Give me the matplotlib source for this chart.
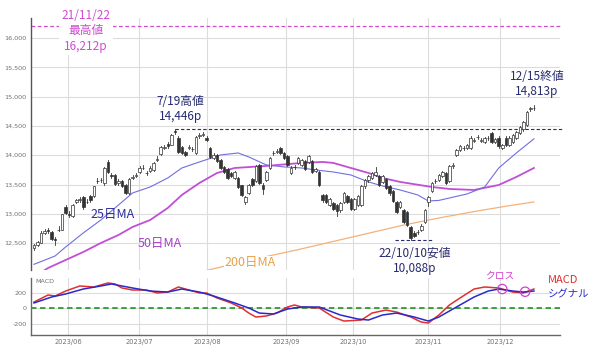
import matplotlib
matplotlib.use('Agg')
import matplotlib.pyplot as plt
import numpy as np

plt.rcParams['font.family'] = ['Noto Sans CJK JP', 'DejaVu Sans']

# daily candles, 2023/05/18 - 2023/12/15
opens = [12420, 12470, 12510, 12680, 12730, 12690, 12570, 12720, 12730, 13120, 12990, 12960, 13200, 13240, 13280,
         13200, 13300, 13300, 13560, 13570, 13520, 13890, 13660, 13660, 13520, 13560, 13500, 13360, 13620, 13650,
         13720, 13790, 13700, 13730, 13750,
         13920, 14020, 14120, 14200, 14180, 14410, 14300, 14140, 14060, 14130, 14100, 14040, 14330, 14350, 14290,
         14120, 13950, 14000, 13920, 13800, 13770, 13700, 13620, 13610, 13490, 13200, 13360, 13600, 13560, 13830,
         13500, 13580, 13780, 14030, 14060,
         14120, 14030, 13990, 13700, 13800, 13870, 13840, 13900, 13890, 13900, 13730, 13720, 13320, 13320, 13150,
         13180, 13150, 13060, 13200, 13300, 13250, 13090, 13150, 13160, 13470, 13570, 13620, 13670, 13650, 13550,
         13600, 13480, 13390, 13200, 13120, 13060,
         13030, 12780, 12680, 12690, 12720, 12860, 13200, 13390, 13560, 13580, 13650, 13700, 13560, 13820, 14010,
         14090, 14120, 14130, 14130, 14250, 14310, 14250, 14230, 14290, 14380, 14230, 14300, 14130, 14300, 14180,
         14230, 14290, 14380, 14440, 14520, 14790, 14800]
highs = [12490, 12540, 12700, 12740, 12760, 12700, 12600, 12790, 13000, 13150, 13050, 13170, 13260, 13290, 13300,
         13250, 13320, 13480, 13620, 13620, 13800, 13920, 13700, 13680, 13590, 13580, 13510, 13620, 13660, 13700,
         13820, 13830, 13740, 13810, 13880,
         13980, 14160, 14170, 14230, 14370, 14446, 14320, 14160, 14080, 14170, 14140, 14330, 14380, 14400, 14320,
         14140, 14030, 14020, 13940, 13820, 13790, 13720, 13740, 13630, 13500, 13310, 13510, 13620, 13830, 13850,
         13520, 13730, 13970, 14080, 14100,
         14140, 14050, 14000, 13810, 13840, 13970, 13940, 13920, 14000, 13920, 13790, 13740, 13340, 13340, 13270,
         13200, 13170, 13200, 13380, 13320, 13270, 13270, 13320, 13500, 13590, 13670, 13720, 13800, 13670, 13670,
         13620, 13500, 13410, 13220, 13220, 13080,
         13050, 12800, 12700, 12730, 12820, 13090, 13310, 13550, 13600, 13680, 13730, 13720, 13830, 13860, 14110,
         14170, 14160, 14200, 14320, 14290, 14350, 14290, 14310, 14330, 14400, 14300, 14320, 14200, 14320, 14320,
         14370, 14420, 14500, 14580, 14760, 14830, 14850]
lows = [12380, 12450, 12500, 12660, 12680, 12560, 12470, 12700, 12720, 13000, 12950, 12940, 13180, 13210, 13090,
        13180, 13210, 13280, 13530, 13540, 13500, 13700, 13620, 13490, 13500, 13460, 13340, 13340, 13600, 13630,
        13700, 13760, 13660, 13710, 13730,
        13900, 14000, 14100, 14130, 14170, 14370, 14040, 14020, 13980, 14100, 14070, 14020, 14300, 14320, 14240,
        13950, 13930, 13880, 13760, 13690, 13590, 13630, 13600, 13440, 13300, 13170, 13340, 13480, 13540, 13510,
        13340, 13560, 13760, 14000, 14030,
        14020, 13940, 13810, 13680, 13770, 13850, 13820, 13750, 13870, 13700, 13710, 13470, 13210, 13180, 13130,
        13060, 12970, 13040, 13180, 13180, 13060, 13070, 13130, 13140, 13450, 13550, 13600, 13650, 13480, 13530,
        13420, 13330, 13200, 13010, 13100, 12840,
        12790, 12550, 12600, 12660, 12700, 12840, 13130, 13370, 13530, 13560, 13630, 13510, 13540, 13790, 13990,
        14070, 14090, 14110, 14110, 14220, 14280, 14220, 14210, 14260, 14210, 14210, 14130, 14110, 14150, 14160,
        14210, 14270, 14360, 14420, 14500, 14760, 14780]
closes = [12470, 12520, 12680, 12710, 12700, 12580, 12560, 12730, 12990, 13020, 12980, 13150, 13240, 13240, 13110,
          13210, 13230, 13470, 13560, 13580, 13780, 13720, 13650, 13510, 13560, 13480, 13360, 13600, 13620, 13660,
          13790, 13780, 13690, 13790, 13860,
          13920, 14140, 14140, 14150, 14350, 14400, 14060, 14040, 14000, 14130, 14100, 14310, 14330, 14350, 14260,
          13970, 14000, 13900, 13780, 13710, 13610, 13650, 13720, 13460, 13320, 13290, 13490, 13500, 13810, 13530,
          13420, 13710, 13950, 14030, 14060,
          14040, 13960, 13830, 13790, 13800, 13950, 13920, 13770, 13980, 13720, 13760, 13490, 13230, 13200, 13250,
          13080, 13050, 13180, 13360, 13200, 13080, 13250, 13300, 13480, 13570, 13650, 13700, 13720, 13500, 13650,
          13440, 13350, 13220, 13030, 13200, 12860,
          12810, 12590, 12620, 12690, 12800, 13070, 13290, 13530, 13560, 13660, 13710, 13530, 13810, 13820, 14090,
          14150, 14120, 14180, 14300, 14250, 14310, 14250, 14290, 14290, 14230, 14280, 14150, 14180, 14170, 14300,
          14350, 14400, 14480, 14560, 14740, 14790, 14813]

# moving averages (sampled along the trading-day index)
ma25_x = [0, 6, 9, 14, 19, 24, 28, 33, 38, 42, 47, 53, 58, 61, 66, 71, 76, 80, 85, 90, 95, 99, 104, 109, 112,
          115, 123, 128, 132, 137, 142]
ma25_y = [12140, 12282, 12436, 12675, 12896, 13152, 13357, 13459, 13613, 13783, 13886, 14005, 14039, 13971, 13835,
          13801, 13783, 13749, 13715, 13664, 13545, 13476, 13408, 13323, 13220, 13230, 13340, 13459, 13783, 14039,
          14280]
ma50_x = [2, 4, 9, 14, 19, 24, 28, 33, 38, 42, 47, 52, 57, 66, 76, 82, 85, 90, 95, 99, 104, 113, 118, 125, 132,
          137, 142]
ma50_y = [12000, 12077, 12214, 12350, 12504, 12640, 12777, 12896, 13101, 13323, 13528, 13698, 13783, 13818, 13869,
          13886, 13869, 13783, 13698, 13613, 13545, 13459, 13425, 13408, 13493, 13630, 13783]
ma200_x = [45, 55, 65, 75, 85, 95, 105, 115, 125, 135, 142]
ma200_y = [11980, 12120, 12260, 12390, 12530, 12670, 12810, 12930, 13040, 13140, 13204]

# MACD / signal
macd_x = [0, 4, 6, 9, 13, 17, 21, 23, 25, 28, 32, 35, 38, 41, 44, 47, 49, 52, 56, 59, 61, 63, 66, 69, 72, 74, 76,
          81, 85, 88, 93, 96, 100, 103, 107, 110, 112, 115, 118, 121, 125, 128, 132, 136, 139, 142]
macd_y = [77, 168, 155, 219, 284, 271, 323, 310, 258, 232, 232, 194, 206, 271, 232, 194, 194, 129, 65, 0, -65, -116,
          -103, -65, 13, 39, 13, 0, -116, -168, -155, -65, -26, -52, -116, -181, -194, -90, 39, 129, 245, 271, 258,
          206, 194, 245]
signal_x = [0, 5, 9, 14, 19, 22, 28, 33, 38, 42, 47, 51, 57, 61, 64, 68, 72, 76, 81, 87, 92, 95, 99, 103, 108, 112,
            115, 120, 125, 129, 132, 136, 139, 142]
signal_y = [65, 142, 181, 245, 284, 310, 258, 219, 206, 245, 206, 155, 65, 0, -65, -77, -13, 13, 13, -90, -142, -155,
            -90, -65, -116, -168, -116, 13, 142, 219, 245, 219, 206, 219]
cross_x = [133, 139.5]
cross_y = [245, 210]

month_pos = [9.7, 29.8, 49.1, 71.6, 90.6, 111.9, 132.3]
month_labels = ['2023/06', '2023/07', '2023/08', '2023/09', '2023/10', '2023/11', '2023/12']

ath, high719, low1010 = 16212, 14446, 12555

W, H = 600, 351
fig = plt.figure(figsize=(6, 3.51), dpi=100)
ax = fig.add_axes([31/W, 1-270/H, (560-31)/W, (270-18)/H])
ax2 = fig.add_axes([31/W, 1-335/H, (560-31)/W, (335-278)/H])

xmin, xmax = -0.85, 149.4
tick_col = '#707070'
grid_col = '#dcdcdc'

# ---- main panel
ax.set_xlim(xmin, xmax)
ax.set_ylim(12043, 16341)
ax.set_yticks(np.arange(12500, 16001, 500))
ax.set_yticklabels(['{:,}'.format(v) for v in range(12500, 16001, 500)], fontsize=4.6,
                   color=tick_col, family='DejaVu Sans')
ax.set_xticks(month_pos)
ax.set_xticklabels([])
ax.tick_params(length=0, pad=3)
ax.grid(True, color=grid_col, lw=0.8, zorder=0)
ax.set_axisbelow(True)
for s in ['top', 'right', 'bottom']:
    ax.spines[s].set_visible(False)
ax.spines['left'].set_color('#555555')
ax.spines['left'].set_linewidth(1.0)

ax.plot(ma200_x, ma200_y, color='#f2b27a', lw=0.9, zorder=2)
ax.plot(ma50_x, ma50_y, color='#c04fd6', lw=1.3, zorder=2)
ax.plot(ma25_x, ma25_y, color='#6f6fe0', lw=0.8, zorder=2)

x = np.arange(len(closes))
for i in x:
    o, h, l, c = opens[i], highs[i], lows[i], closes[i]
    ax.plot([i, i], [l, h], color='#333333', lw=0.6, zorder=3)
    bot = min(o, c)
    hgt = max(abs(c - o), 8)
    fc = 'white' if c >= o else '#333333'
    ax.bar(i, hgt, bottom=bot, width=0.72, color=fc, edgecolor='#333333', linewidth=0.5, zorder=4)

navy = '#262a6e'
mag = '#d04bd0'
ax.plot([xmin, xmax + 0.6], [ath, ath], color=mag, lw=0.9, ls=(0, (3, 2)), zorder=2, clip_on=False)
ax.plot([40, xmax + 0.6], [high719, high719], color=navy, lw=0.8, ls=(0, (3, 2)), zorder=2, clip_on=False)
ax.plot([102.6, 113.4], [low1010, low1010], color=navy, lw=0.8, ls=(0, (3, 2)), zorder=2)

ax.text(14.8, 16121, '21/11/22\n最高値\n16,212p', color=mag, fontsize=8.5, ha='center', va='center',
        linespacing=1.25, zorder=5, clip_on=False,
        bbox=dict(facecolor='white', edgecolor='none', pad=1.5))
ax.text(41.5, 14790, '7/19高値\n14,446p', color=navy, fontsize=8.5, ha='center', va='center', linespacing=1.25,
        zorder=5)
ax.text(142.9, 15217, '12/15終値\n14,813p', color=navy, fontsize=8.5, ha='center', va='center', linespacing=1.25,
        zorder=5)
ax.text(108, 12188, '22/10/10安値\n10,088p', color=navy, fontsize=8.5, ha='center', va='center', linespacing=1.2,
        zorder=5, clip_on=False)
ax.text(22.2, 12982, '25日MA', color='#2b2b9a', fontsize=9, ha='center', va='center', zorder=5)
ax.text(35.8, 12487, '50日MA', color='#a540c8', fontsize=9, ha='center', va='center', zorder=5)
ax.text(61.4, 12163, '200日MA', color='#e8a048', fontsize=9, ha='center', va='center', zorder=5,
        bbox=dict(facecolor='white', edgecolor='none', pad=0.5))

# ---- MACD panel
ax2.set_xlim(xmin, xmax)
ax2.set_ylim(-348, 387)
ax2.set_yticks([-200, 0, 200])
ax2.set_yticklabels(['-200', '0', '200'], fontsize=4.6, color=tick_col, family='DejaVu Sans')
ax2.set_xticks(month_pos)
ax2.set_xticklabels(month_labels, fontsize=4.8, color=tick_col, family='DejaVu Sans')
ax2.tick_params(length=0, pad=3)
ax2.grid(True, color=grid_col, lw=0.8, zorder=0)
ax2.set_axisbelow(True)
for s in ['top', 'right']:
    ax2.spines[s].set_visible(False)
for s in ['left', 'bottom']:
    ax2.spines[s].set_color('#666666')
    ax2.spines[s].set_linewidth(1.0)

ax2.axhline(0, color='#2e9a2e', lw=1.3, ls=(0, (3, 2)), zorder=2)
ax2.plot(macd_x, macd_y, color='#e03030', lw=1.1, zorder=3)
ax2.plot(signal_x, signal_y, color='#2a2ac8', lw=1.1, zorder=3)
ax2.scatter(cross_x, cross_y, s=45, facecolors='none', edgecolors='#d040d0', linewidths=0.9, zorder=4)
ax2.text(0.3, 375, 'MACD', fontsize=4.6, color=tick_col, ha='left', va='top', family='DejaVu Sans')
ax2.text(132.4, 413, 'クロス', color='#d040d0', fontsize=7, ha='center', va='center', clip_on=False)
ax2.text(146, 361, 'MACD', color='#e03030', fontsize=8, ha='left', va='center', clip_on=False)
ax2.text(146, 181, 'シグナル', color='#2a2ac8', fontsize=7.5, ha='left', va='center', clip_on=False)

fig.savefig('out.png', dpi=100)
